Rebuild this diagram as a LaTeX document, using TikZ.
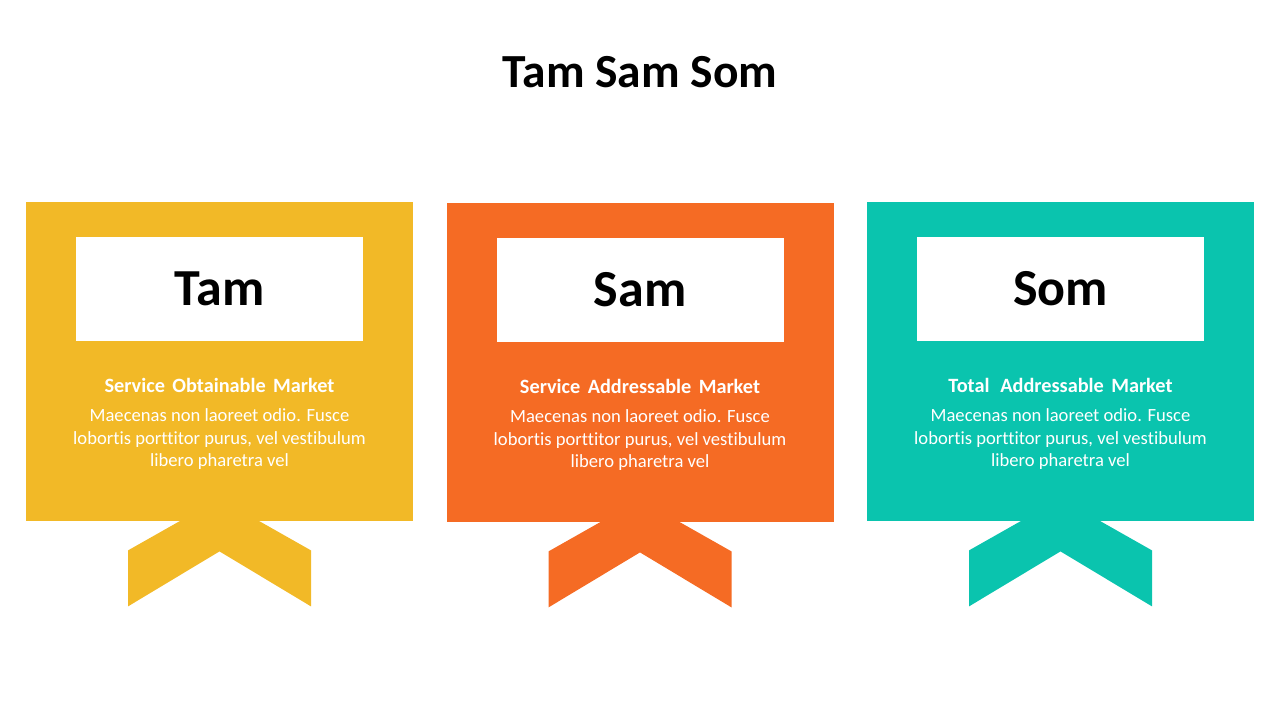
\documentclass[tikz,border=0pt]{standalone}
\usepackage{fontspec}
\setmainfont{Carlito}[Ligatures=NoCommon]
\newfontfamily\subheadfont{Carlito}[WordSpace=1.6]
\definecolor{tamyellow}{HTML}{F2B927}
\definecolor{samorange}{HTML}{F56B24}
\definecolor{somteal}{HTML}{0AC4AE}
\begin{document}
\begin{tikzpicture}[x=1pt, y=-1pt,
    card/.style={inner sep=0pt, minimum width=387pt, minimum height=319pt},
    labelbox/.style={fill=white, inner sep=0pt, minimum width=287pt, minimum height=104pt,
      font=\bfseries\fontsize{52}{60}\selectfont},
    subhead/.style={text=white, font=\subheadfont\bfseries\fontsize{20.3}{24}\selectfont},
    bodytext/.style={text=white, align=center, font=\fontsize{18.6}{22.5}\selectfont}]
  \useasboundingbox (0,0) rectangle (1280,720);
  \node[font=\bfseries\fontsize{47.5}{56}\selectfont] (title) at (640,72) {Tam Sam Som};
  % three cards with a ribbon tail
  \foreach \cx/\top/\col/\name/\lbl/\sub in {219.5/202/tamyellow/tam/Tam/Service Obtainable Market,
      640/203/samorange/sam/Sam/Service Addressable Market,
      1060.5/202/somteal/som/Som/Total\ \,Addressable Market}{
    \node[card, fill=\col, anchor=north] (\name) at (\cx,\top) {};
    \fill[\col] ([xshift=-38.5pt, yshift=1pt]\name.south) -- ++(-53,30) -- ++(0,56)
      -- ++(91.5,-55) -- ++(91.5,55) -- ++(0,-56) -- ++(-53,-30) -- cycle;
    \node[labelbox] (\name-label) at (\cx,\top+87) {\lbl};
    \node[subhead] (\name-sub) at (\cx,\top+183) {\sub};
    \node[bodytext] (\name-body) at (\cx,\top+237.5) {Maecenas non laoreet odio. Fusce\\
      lobortis porttitor purus, vel vestibulum\\ libero pharetra vel};
  }
\end{tikzpicture}
\end{document}
